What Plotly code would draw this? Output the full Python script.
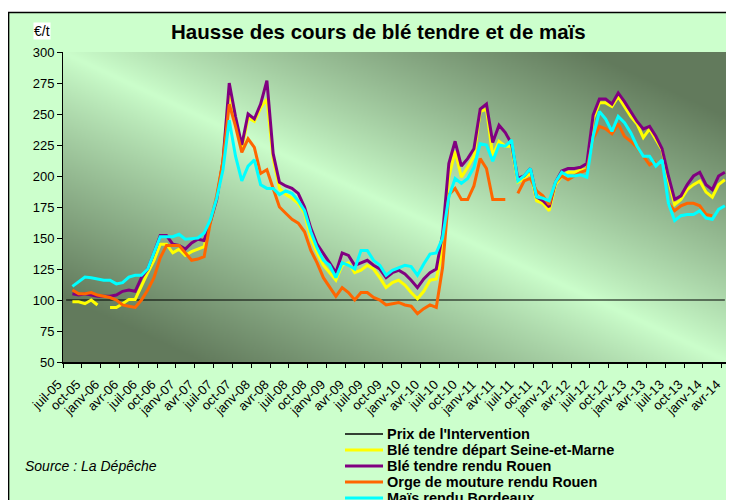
import base64, struct, zlib
import numpy as np
import plotly.graph_objects as go

N = None
months = list(range(106))  # juil-05 ... avr-14

tick_labels = ["juil-05", "oct-05", "janv-06", "avr-06", "juil-06", "oct-06", "janv-07", "avr-07",
               "juil-07", "oct-07", "janv-08", "avr-08", "juil-08", "oct-08", "janv-09", "avr-09",
               "juil-09", "oct-09", "janv-10", "avr-10", "juil-10", "oct-10", "janv-11", "avr-11",
               "juil-11", "oct-11", "janv-12", "avr-12", "juil-12", "oct-12", "janv-13", "avr-13",
               "juil-13", "oct-13", "janv-14", "avr-14"]

intervention = [100] * 106

ble_seine_marne = [N, 98.5, 98.5, 97, 100, 96, N, 94, 94, 97, 100.5, 100.5,
                   112, 122, 132, 145, 145, 138, 141, 136, 139, 141, 143, 163,
                   181, 212, 270, 245, 222, 247, 244, 255, 262, 214, 190, 185,
                   182, 178, 170, 150, 138, 128, 122, 116, 128, 130, 122, 124,
                   128, 125, 118, 110, 114, 116, 112, 106, 101, 107, 116, 117,
                   140, 199, 220, 199, 207, 216, 252, 254, 216, 228, 224, 224,
                   195, 198, 203, 180, 178, 172, 193, 200, 203, 203, 205, 205,
                   246, 259, 259, 256, 264, 256, 248, 242, 231, 238, 230, 221,
                   197, 177, 181, 189, 193, 196, 187, 183, 193, 197]

ble_rouen = [N, 105, 104, 105, 104, 103, 103, 103, 104, 107, 108, 107,
             118, 125, 138, 152, 152, 145, 144, 141, 146, 149, 148, 163,
             181, 212, 275, 248, 225, 250, 246, 258, 277, 218, 195, 192,
             190, 186, 175, 158, 145, 138, 130, 122, 138, 136, 128, 130,
             132, 128, 125, 118, 122, 124, 121, 116, 110, 117, 122, 125,
             153, 210, 228, 208, 214, 222, 254, 258, 227, 241, 235, 226,
             198, 200, 206, 183, 180, 175, 195, 204, 206, 206, 207, 210,
             249, 262, 262, 258, 267, 260, 252, 244, 238, 240, 232, 222,
             200, 181, 184, 193, 200, 203, 193, 189, 200, 203]

orge_rouen = [N, 108, 105, 105, 106, 104, 103, 102, 100, 96, 95, 94,
              100, 108, 118, 134, 144, 144, 144, 138, 132, 133, 135, 163,
              184, 212, 258, 240, 219, 230, 223, 202, 205, 190, 175, 170,
              165, 162, 155, 140, 130, 118, 110, 103, 110, 106, 100, 106,
              106, 102, 100, 96, 97, 98, 96, 95, 89, 93, 96, 94,
              126, 185, 190, 181, 181, 192, 214, 206, 181, 181, 181, N,
              186, 196, 198, 188, 184, 177, 195, 200, 197, 200, 203, 205,
              230, 240, 238, 234, 242, 232, 228, 223, 216, 209, 212, N,
              178, 172, 176, 178, 178, 176, 169, 168, N, N]

mais_bordeaux = [N, 111, 115, 118.5, 118, 117, 116, 116, 113, 114, 118.5, 120,
                 120, 125, 138, 151, 151, 151, 153, 149, 149.5, 150, 154, 165,
                 182, 205, 245, 216, 196, 208, 213, 193, 190, 190, 185, 188,
                 186, 180, 172, 155, 142, 132, 128, 118, 130, 128, 125, 140,
                 140, 132, 128, 120, 124, 126, 128, 127, 120, 129, 137, 138,
                 150, 183, 198, 194, 198, 207, 226, 225, 212, 225, 224, 229,
                 196, 200, 206, 183, 182, 180, 195, 203, 200, 200, 201, 199,
                 232, 252, 246, 236, 248, 243, 235, 224, 216, 216, 208, 213,
                 178, 164, 168, 169, 169, 172, 166, 165, 173, 176]

series_names = ["Prix de l'Intervention", "Blé tendre départ Seine-et-Marne",
                "Blé tendre rendu Rouen", "Orge de mouture rendu Rouen", "Maïs rendu Bordeaux"]
series_values = [intervention, ble_seine_marne, ble_rouen, orge_rouen, mais_bordeaux]
series_colors = ["#000000", "#FFFF00", "#800080", "#FF6600", "#00FFFF"]
series_widths = [1.2, 3, 3, 3, 3]

# ---- background gradient image for the plot area ----
def make_png(arr):
    h, w, _ = arr.shape
    raw = b"".join(b"\x00" + arr[y].tobytes() for y in range(h))
    def chunk(tag, data):
        c = struct.pack(">I", len(data)) + tag + data
        return c + struct.pack(">I", zlib.crc32(tag + data) & 0xffffffff)
    png = b"\x89PNG\r\n\x1a\n"
    png += chunk(b"IHDR", struct.pack(">IIBBBBB", w, h, 8, 2, 0, 0, 0))
    png += chunk(b"IDAT", zlib.compress(raw, 9))
    png += chunk(b"IEND", b"")
    return "data:image/png;base64," + base64.b64encode(png).decode()

W, H = 332, 155
u = np.linspace(0, 1, W)[None, :]
v = np.linspace(0, 1, H)[:, None]
t = np.clip(np.abs(u - v) * 1.25, 0, 1) ** 0.9
light = np.array([204, 255, 204], float)
dark = np.array([98, 122, 92], float)
img = light[None, None, :] + (dark - light)[None, None, :] * t[:, :, None]
bg_src = make_png(img.astype(np.uint8))

# ---- figure (page body has an 8px margin, so the figure is 726x492) ----
FW, FH = 726, 492
L, R, T, B = 55, 6, 44, 138
PW, PH = FW - L - R, FH - T - B
def px(X):   # page x -> paper
    return (X - 8 - L) / PW
def py(Y):   # page y -> paper
    return (FH - B - (Y - 8)) / PH

fig = go.Figure()
for name, vals, col, w in zip(series_names, series_values, series_colors, series_widths):
    fig.add_trace(go.Scatter(x=months, y=vals, name=name, mode="lines",
                             line=dict(color=col, width=w), connectgaps=False))

shapes = [
    dict(type="rect", xref="paper", yref="paper", x0=px(0), x1=px(745), y0=py(12.5), y1=py(0),
         fillcolor="white", line=dict(width=0), layer="below"),
    dict(type="rect", xref="paper", yref="paper", x0=px(730.5), x1=px(745), y0=py(510), y1=py(0),
         fillcolor="white", line=dict(width=0), layer="below"),
    dict(type="rect", xref="paper", yref="paper", x0=px(8.6), x1=px(730.5), y0=py(520), y1=py(12.5),
         fillcolor="rgba(0,0,0,0)", line=dict(color="black", width=1.5)),
]
annotations = [
    dict(text="<b>Hausse des cours de blé tendre et de maïs</b>", xref="paper", yref="paper",
         x=px(378), y=py(31), xanchor="center", yanchor="middle", showarrow=False,
         font=dict(size=20.5)),
    dict(text="€/t", xref="paper", yref="paper", x=px(33), y=py(31), xanchor="left",
         yanchor="middle", showarrow=False, font=dict(size=14), bgcolor="white", borderpad=0),
    dict(text="<i>Source : La Dépêche</i>", xref="paper", yref="paper", x=px(23), y=py(466),
         xanchor="left", yanchor="middle", showarrow=False, font=dict(size=14)),
]
# manual legend (compact row spacing as in the reference)
for k, (name, col, w) in enumerate(zip(series_names, series_colors, series_widths)):
    yk = 434 + 16 * k
    shapes.append(dict(type="line", xref="paper", yref="paper", x0=px(345), x1=px(383),
                       y0=py(yk), y1=py(yk), line=dict(color=col, width=max(w, 1.5))))
    annotations.append(dict(text="<b>" + name + "</b>", xref="paper", yref="paper",
                            x=px(385), y=py(yk), xanchor="left", yanchor="middle",
                            showarrow=False, font=dict(size=14.5)))

fig.update_layout(
    width=FW, height=FH,
    margin=dict(l=L, r=R, t=T, b=B, autoexpand=False),
    paper_bgcolor="#CCFFCC",
    plot_bgcolor="rgba(0,0,0,0)",
    font=dict(family="Liberation Sans, Arial, sans-serif", color="black", size=12),
    showlegend=False,
    images=[dict(source=bg_src, xref="paper", yref="paper", x=0, y=1, sizex=1, sizey=1,
                 sizing="stretch", xanchor="left", yanchor="top", layer="below")],
    xaxis=dict(range=[-0.5, 105.5], tickmode="array",
               tickvals=[3 * k - 0.5 for k in range(len(tick_labels))],
               ticktext=tick_labels, tickangle=-45, ticks="outside", ticklen=4,
               tickcolor="black", showline=True, linecolor="black", linewidth=1.5,
               showgrid=False, zeroline=False, tickfont=dict(size=13), automargin=False,
               ticklabelshift=-5, ticklabelstandoff=4),
    yaxis=dict(range=[50, 300], dtick=25, tick0=50, ticks="outside", ticklen=5,
               tickcolor="black", showline=True, linecolor="black", linewidth=1,
               showgrid=False, zeroline=False, tickfont=dict(size=13), automargin=False),
    shapes=shapes,
    annotations=annotations,
)

fig.write_html("out.html", config={"displayModeBar": False})
